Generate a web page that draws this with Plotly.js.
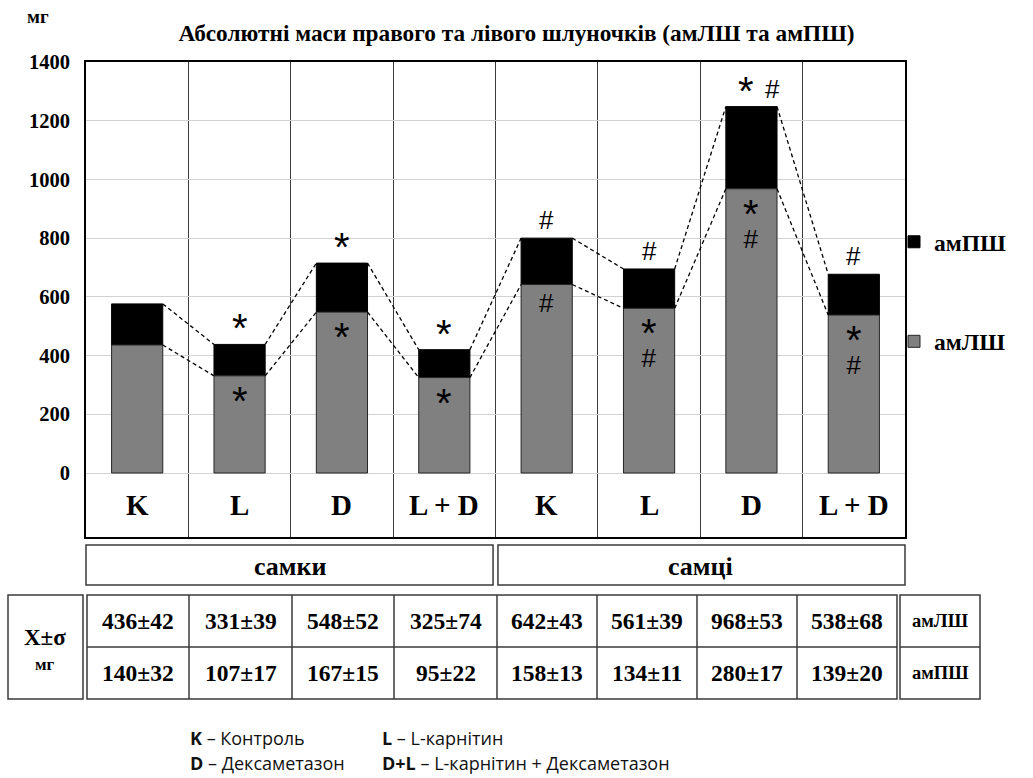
<!DOCTYPE html>
<html>
<head>
<meta charset="utf-8">
<script src="https://cdn.plot.ly/plotly-3.0.1.min.js"></script>
<style>html,body{margin:0;padding:0;background:#fff;}#chart{width:1033px;height:778px;}</style>
</head>
<body>
<div id="chart"></div>
<script>
// ---------- data ----------
const categories = ['K', 'L', 'D', 'L + D', 'K', 'L', 'D', 'L + D'];
const groups = ['самки', 'самці'];
const groupSizes = [4, 4];
const seriesNames = ['амЛШ', 'амПШ'];
const amLSH = [436, 331, 548, 325, 642, 561, 968, 538];
const amLSHsd = [42, 39, 52, 74, 43, 39, 53, 68];
const amPSH = [140, 107, 167, 95, 158, 134, 280, 139];
const amPSHsd = [32, 17, 15, 22, 13, 11, 17, 20];
const topMarks = ['', '*', '*', '*', '#', '#', '* #', '#'];
const innerMarks = ['', '*', '*', '*', '#', '*<br>#', '*<br>#', '*<br>#'];
const yTicks = [0, 200, 400, 600, 800, 1000, 1200, 1400];
const titleText = 'Абсолютні маси правого та лівого шлуночків (амЛШ та амПШ)';
const unitText = 'мг';
const tableHead = ['X±σ', 'мг'];
const legendNotes = [['K', 'Контроль'], ['L', 'L-карнітин'], ['D', 'Дексаметазон'], ['D+L', 'L-карнітин + Дексаметазон']];

// ---------- layout constants ----------
const W = 1033, H = 778;
const M = {l: 86, r: 128, t: 62, b: 241};
const PW = W - M.l - M.r, PH = H - M.t - M.b;
const px2x = p => (p - M.l) / PW;
const py2y = p => (H - M.b - p) / PH;
const barWidth = 0.5;
const serif = 'Liberation Serif';
const sans = 'Liberation Sans';

const idx = categories.map((_, i) => i);
const totals = amLSH.map((v, i) => v + amPSH[i]);

const traces = [
  {type: 'bar', name: seriesNames[1], x: idx, y: amPSH, base: amLSH, width: barWidth, legendgroup: 'b',
   marker: {color: '#000000', line: {color: '#000000', width: 1}}, hoverinfo: 'y'},
  {type: 'bar', name: seriesNames[0], x: idx, y: amLSH, width: barWidth, legendgroup: 'a',
   marker: {color: '#808080', line: {color: '#262626', width: 1}}, hoverinfo: 'y'}
];

function connector(vals) {
  const xs = [], ys = [];
  for (let i = 0; i < vals.length - 1; i++) {
    xs.push(idx[i] + barWidth / 2, idx[i + 1] - barWidth / 2, null);
    ys.push(vals[i], vals[i + 1], null);
  }
  return {type: 'scatter', mode: 'lines', x: xs, y: ys, showlegend: false, hoverinfo: 'skip',
          line: {color: '#000', width: 1.3, dash: '4px,3px'}};
}
traces.push(connector(totals));
traces.push(connector(amLSH));

const annotations = [];
const shapes = [];

annotations.push({xref: 'paper', yref: 'paper', x: px2x(38), y: py2y(17), text: '<b>' + unitText + '</b>',
  showarrow: false, font: {family: serif, size: 19, color: '#000'}, xanchor: 'center', yanchor: 'middle'});

// significance marks: asterisks larger than hashes
const STAR = 40, HASH = 26;
function markText(s) {
  return s.split('<br>').map(line => line.split('').map(c =>
    '<span style="font-size:' + (c === '*' ? STAR : HASH) + 'px">' + c + '</span>').join('')).join('<br>');
}

idx.forEach((i) => {
  annotations.push({xref: 'x', yref: 'y', x: i, y: -110, text: '<b>' + categories[i] + '</b>', showarrow: false,
    font: {family: serif, size: 29, color: '#000'}, xanchor: 'center', yanchor: 'middle'});
  if (topMarks[i]) {
    const toks = topMarks[i].split(' ');
    toks.forEach((t, k) => {
      annotations.push({xref: 'x', yref: 'y', x: i, y: totals[i], yshift: t === '*' ? 16 : 18,
        xshift: toks.length > 1 ? (k - (toks.length - 1) / 2) * 27 + 8 : 0, text: t,
        showarrow: false, font: {family: sans, size: t === '*' ? STAR : HASH, color: '#000'}, xanchor: 'center', yanchor: 'middle'});
    });
  }
  if (innerMarks[i]) {
    annotations.push({xref: 'x', yref: 'y', x: i, y: amLSH[i], yshift: -1, text: markText(innerMarks[i]),
      showarrow: false, font: {family: sans, size: 15.6, color: '#000'}, xanchor: 'center', yanchor: 'top'});
  }
});

// group boxes
const boxStyle = {color: '#3a3a3a', width: 1.5};
let start = 0;
groups.forEach((g, k) => {
  const x0 = start / categories.length, x1 = (start + groupSizes[k]) / categories.length;
  const gap = 0.003;
  shapes.push({type: 'rect', xref: 'paper', yref: 'paper', x0: x0 + (k ? gap : 0), x1: x1 - (k ? 0 : gap),
    y0: py2y(585), y1: py2y(545), line: boxStyle, fillcolor: 'rgba(0,0,0,0)'});
  annotations.push({xref: 'paper', yref: 'paper', x: (x0 + x1) / 2, y: py2y(566), text: '<b>' + g + '</b>',
    showarrow: false, font: {family: serif, size: 26, color: '#000'}, xanchor: 'center', yanchor: 'middle'});
  start += groupSizes[k];
});

// table
const colB = [87, 189, 292, 394, 497, 597, 697, 797, 897];
const rowB = [595, 647, 699];
const tline = {color: '#3a3a3a', width: 1.5};
shapes.push({type: 'rect', xref: 'paper', yref: 'paper', x0: px2x(8), x1: px2x(83), y0: py2y(rowB[2]), y1: py2y(rowB[0]), line: tline});
annotations.push({xref: 'paper', yref: 'paper', x: px2x(45), y: py2y(637), text: '<b>' + tableHead[0] + '</b>', showarrow: false,
  font: {family: serif, size: 23, color: '#000'}, xanchor: 'center', yanchor: 'middle'});
annotations.push({xref: 'paper', yref: 'paper', x: px2x(45), y: py2y(664), text: '<b>' + tableHead[1] + '</b>', showarrow: false,
  font: {family: serif, size: 17, color: '#000'}, xanchor: 'center', yanchor: 'middle'});
shapes.push({type: 'rect', xref: 'paper', yref: 'paper', x0: px2x(colB[0]), x1: px2x(colB[colB.length - 1]), y0: py2y(rowB[2]), y1: py2y(rowB[0]), line: tline});
for (let k = 1; k < colB.length - 1; k++) {
  shapes.push({type: 'line', xref: 'paper', yref: 'paper', x0: px2x(colB[k]), x1: px2x(colB[k]), y0: py2y(rowB[2]), y1: py2y(rowB[0]), line: tline});
}
shapes.push({type: 'line', xref: 'paper', yref: 'paper', x0: px2x(colB[0]), x1: px2x(colB[colB.length - 1]), y0: py2y(rowB[1]), y1: py2y(rowB[1]), line: tline});
shapes.push({type: 'rect', xref: 'paper', yref: 'paper', x0: px2x(900), x1: px2x(980), y0: py2y(rowB[2]), y1: py2y(rowB[0]), line: tline});
shapes.push({type: 'line', xref: 'paper', yref: 'paper', x0: px2x(900), x1: px2x(980), y0: py2y(rowB[1]), y1: py2y(rowB[1]), line: tline});
const rowVals = [[amLSH, amLSHsd], [amPSH, amPSHsd]];
rowVals.forEach(([m, s], r) => {
  const yc = py2y((rowB[r] + rowB[r + 1]) / 2);
  m.forEach((v, i) => {
    annotations.push({xref: 'paper', yref: 'paper', x: px2x((colB[i] + colB[i + 1]) / 2), y: yc,
      text: '<b>' + v + '±' + s[i] + '</b>', showarrow: false, font: {family: serif, size: 23.5, color: '#000'},
      xanchor: 'center', yanchor: 'middle'});
  });
  annotations.push({xref: 'paper', yref: 'paper', x: px2x(940), y: yc, text: '<b>' + seriesNames[r] + '</b>',
    showarrow: false, font: {family: serif, size: 18.5, color: '#000'}, xanchor: 'center', yanchor: 'middle'});
});

// bottom notes
const notePos = [[188, 738], [380, 738], [188, 763], [380, 763]];
legendNotes.forEach(([k, t], i) => {
  annotations.push({xref: 'paper', yref: 'paper', x: px2x(notePos[i][0]), y: py2y(notePos[i][1]),
    text: '<b>' + k + '</b> – ' + t, showarrow: false, font: {family: 'Open Sans', size: 18, color: '#111'},
    xanchor: 'left', yanchor: 'middle'});
});

const layout = {
  width: W, height: H, margin: M,
  paper_bgcolor: '#fff', plot_bgcolor: '#fff',
  barmode: 'overlay',
  title: {text: '<b>' + titleText + '</b>', font: {family: serif, size: 23.3, color: '#000'},
          x: 0.5, xanchor: 'center', xref: 'container', y: 1 - 33 / H, yanchor: 'middle', yref: 'container'},
  xaxis: {range: [-0.5, categories.length - 0.5], tickvals: idx.slice(1).map(i => i - 0.5), showticklabels: false,
          showgrid: true, gridcolor: '#3c3c3c', gridwidth: 1, zeroline: false, ticks: '',
          showline: true, mirror: true, linecolor: '#000', linewidth: 2, fixedrange: true},
  yaxis: {range: [-218, 1400], tickvals: yTicks, ticktext: yTicks.map(String), showgrid: true, gridcolor: '#d2d2d2', gridwidth: 1,
          zeroline: false, ticks: '', ticklabelstandoff: 10,
          tickfont: {family: serif, size: 20.5, color: '#000', weight: 'bold'},
          showline: true, mirror: true, linecolor: '#000', linewidth: 2, fixedrange: true},
  showlegend: true,
  legend: {x: px2x(894), xanchor: 'left', y: py2y(220), yanchor: 'top', traceorder: 'grouped', tracegroupgap: 66,
           font: {family: serif, size: 23.5, color: '#000', weight: 'bold'}, itemwidth: 30, bgcolor: 'rgba(0,0,0,0)'},
  annotations: annotations,
  shapes: shapes
};

Plotly.newPlot('chart', traces, layout, {displayModeBar: false, staticPlot: true});
</script>
</body>
</html>
